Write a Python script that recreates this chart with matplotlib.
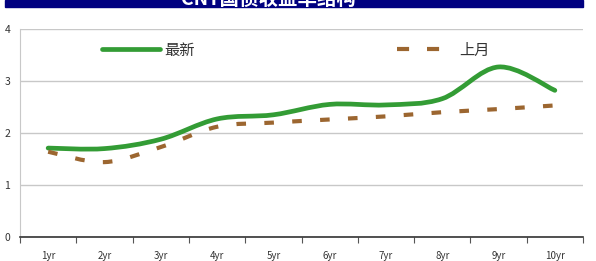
import matplotlib
matplotlib.use("Agg")
import matplotlib.pyplot as plt
from matplotlib.path import Path
from matplotlib.patches import PathPatch, Rectangle
from matplotlib.lines import Line2D
import numpy as np

plt.rcParams['font.family'] = ['Noto Sans CJK SC', 'DejaVu Sans']

# data
tenors = ['1yr', '2yr', '3yr', '4yr', '5yr', '6yr', '7yr', '8yr', '9yr', '10yr']
latest = [1.71, 1.70, 1.88, 2.27, 2.35, 2.55, 2.54, 2.66, 3.27, 2.82]
last_month = [1.64, 1.44, 1.73, 2.12, 2.20, 2.26, 2.32, 2.40, 2.46, 2.53]
title = 'CNY国债收益率结构'

green = '#339c35'
brown = '#9c6630'


def smooth_path(xs, ys):
    # Excel-like smoothed line: cubic bezier segments through the points
    pts = np.column_stack([xs, ys]).astype(float)
    n = len(pts)
    verts = [pts[0]]
    codes = [Path.MOVETO]
    for i in range(n - 1):
        p0 = pts[i - 1] if i > 0 else pts[i]
        p1 = pts[i]
        p2 = pts[i + 1]
        p3 = pts[i + 2] if i + 2 < n else pts[i + 1]
        c1 = p1 + (p2 - p0) / 6
        c2 = p2 - (p3 - p1) / 6
        verts += [c1, c2, p2]
        codes += [Path.CURVE4] * 3
    return Path(verts, codes)


fig = plt.figure(figsize=(5.96, 2.61), dpi=100)
ax = fig.add_axes([20 / 596, 24 / 261, 563 / 596, 208 / 261])

x = np.arange(1, len(tenors) + 1)
ax.add_patch(PathPatch(smooth_path(x, latest), fill=False, edgecolor=green,
                       lw=3.4, capstyle='round', zorder=3))
ax.add_patch(PathPatch(smooth_path(x, last_month), fill=False, edgecolor=brown,
                       lw=3.0, linestyle=(0, (2.3, 4.4)), capstyle='butt', zorder=3))

ax.set_xlim(0.5, len(tenors) + 0.5)
ax.set_ylim(0, 4)
ax.set_yticks([0, 1, 2, 3, 4])
ax.yaxis.grid(True, color='#c8c8c8', lw=1)
ax.set_axisbelow(True)
ax.tick_params(axis='y', length=0, labelsize=7.5, pad=7, colors='#333333')

ax.set_xticks(x)
ax.set_xticklabels(tenors)
ax.set_xticks(np.arange(0.5, len(tenors) + 1), minor=True)
ax.tick_params(axis='x', which='major', length=0, labelsize=7, pad=10, colors='#333333')
ax.tick_params(axis='x', which='minor', length=4, width=0.8, color='#555555', direction='out')

for s in ['top', 'right']:
    ax.spines[s].set_visible(False)
ax.spines['left'].set_color('#c8c8c8')
ax.spines['bottom'].set_color('#333333')
ax.spines['bottom'].set_linewidth(1.2)

handles = [Line2D([], [], color=green, lw=3.4, solid_capstyle='round'),
           Line2D([], [], color=brown, lw=3.0, linestyle=(0, (2.9, 4.3)))]
ax.legend(handles, ['最新', '上月'], loc='upper center', bbox_to_anchor=(0.49, 1.005),
          ncol=2, frameon=False, fontsize=11, handlelength=3.8, handletextpad=0.3,
          columnspacing=13.2, labelcolor='#333333')

# title bar (clipped at top of the image)
fig.patches.append(Rectangle((5 / 596, 1 - 7 / 261), 578 / 596, 7 / 261,
                             transform=fig.transFigure, color='#000080', zorder=0))
fig.text(268 / 596, 1 - 5 / 261, title, color='white', fontsize=14,
         ha='center', va='baseline', fontweight='bold')

fig.savefig('out.png', dpi=100)
